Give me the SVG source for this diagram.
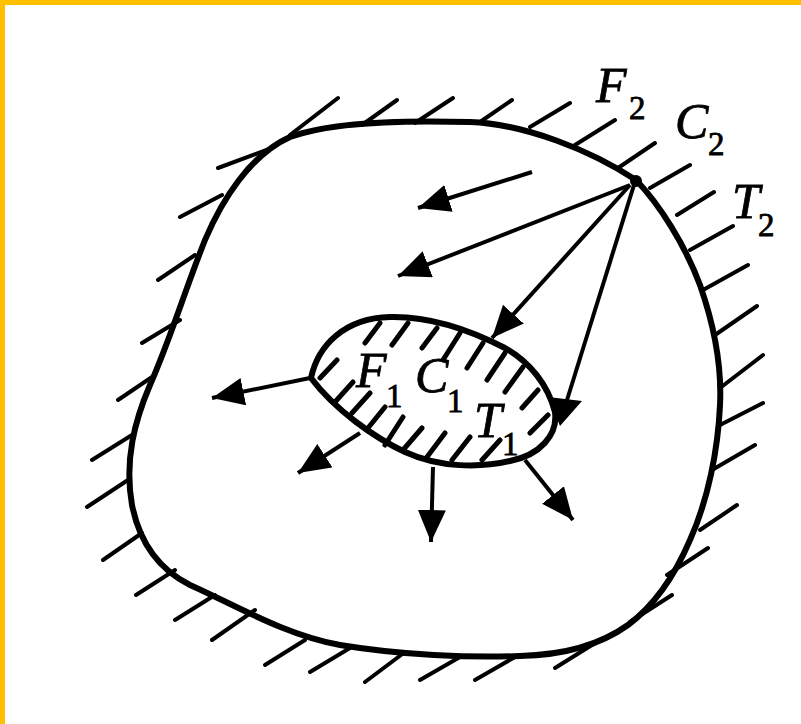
<svg xmlns="http://www.w3.org/2000/svg" width="801" height="724" viewBox="0 0 801 724">
<style>
.o{fill:none;stroke:#000;stroke-linejoin:round;stroke-linecap:round}
.b{stroke-width:6}
.h{stroke-width:4}
.hi{stroke-width:5}
.a{fill:none;stroke:#000;stroke-width:4;marker-end:url(#arrow)}
text{font-family:"Liberation Serif","Times New Roman",serif;fill:#000;stroke:#000;stroke-width:.8}
.m{font-size:50px;font-style:italic}
.s{font-size:33px}
</style>
<defs>
<marker id="arrow" markerUnits="userSpaceOnUse" markerWidth="36" markerHeight="30" refX="32" refY="14" orient="auto">
<path d="M0 0L32 14L0 28Z" fill="#000"/>
</marker>
</defs>
<rect width="801" height="724" fill="#fff"/>
<rect width="801" height="5" fill="#FFC000"/>
<rect width="5" height="724" fill="#FFC000"/>
<g id="outer-boundary">
<path class="o b" d="M636 180C660 205 685 245 700 285C714 325 722 365 720 405C718 450 708 500 690 540C675 575 655 605 628 625C600 645 565 655 520 656C470 658 400 655 340 645C285 635 235 605 190 585C160 570 140 545 132 505C124 460 135 420 150 385C170 340 185 290 205 240C222 200 250 155 290 137C330 122 400 120 470 122C525 124 590 150 636 180Z"/>
<path class="o h" d="M290 135L338 98M362 125L397 100M415 123L453 98M480 122L512 100M530 127L570 103M575 145L615 120M618 168L655 143M650 188L690 165M677 215L714 192M690 250L733 226M703 290L748 265M715 335L757 306M720 388L763 355M720 425L763 403M712 470L755 445M700 530L737 505M667 575L708 548M630 622L672 595M555 668L600 640M218 168L272 148M180 217L222 195M158 280L195 255M142 343L180 320M118 400L155 375M92 460L132 435M87 507L128 480M103 560L142 533M136 595L175 570M175 620L215 595M212 640L255 610M265 665L305 640M310 672L350 648M365 682L405 652M420 680L460 657M475 680L515 657"/>
<circle cx="636" cy="181" r="6" fill="#000"/>
<text class="m" x="596" y="102">F</text><text class="s" x="629" y="119">2</text>
<text class="m" x="675" y="138">C</text><text class="s" x="708" y="155">2</text>
<text class="m" x="732" y="218">T</text><text class="s" x="758" y="236">2</text>
</g>
<g id="inner-boundary">
<path class="o b" d="M311 378C318 345 345 318 390 317C430 316 470 330 505 348C530 362 548 385 555 412C558 435 540 455 510 461C480 468 440 468 405 452C375 438 335 410 311 378Z"/>
<path class="o hi" d="M365 343L380 323M392 345L408 323M422 348L437 328M443 360L460 333M467 368L483 343M487 380L505 353M505 392L523 367M522 408L538 390M530 433L548 415M320 378L337 360M335 402L353 382M352 413L370 393M368 428L385 407M385 445L403 417M403 450L422 428M427 457L445 433M452 460L470 437M482 460L500 440"/>
<text class="m" x="356" y="387">F</text><text class="s" x="386" y="407">1</text>
<text class="m" x="415" y="392">C</text><text class="s" x="447" y="412">1</text>
<text class="m" x="474" y="437">T</text><text class="s" x="502" y="455">1</text>
</g>
<g id="connectors">
<path class="a" d="M532 172L418 208"/>
<path class="a" d="M630 185L398 276"/>
<path class="a" d="M630 185L492 338"/>
<path fill="none" stroke="#000" stroke-width="4" d="M634 185L567 400"/>
<path d="M548 397L582 401L560 426Z" fill="#000"/>
<path class="a" d="M310 378L212 398"/>
<path class="a" d="M360 433L298 473"/>
<path class="a" d="M433 467L431 542"/>
<path class="a" d="M525 460L573 520"/>
</g>
</svg>
